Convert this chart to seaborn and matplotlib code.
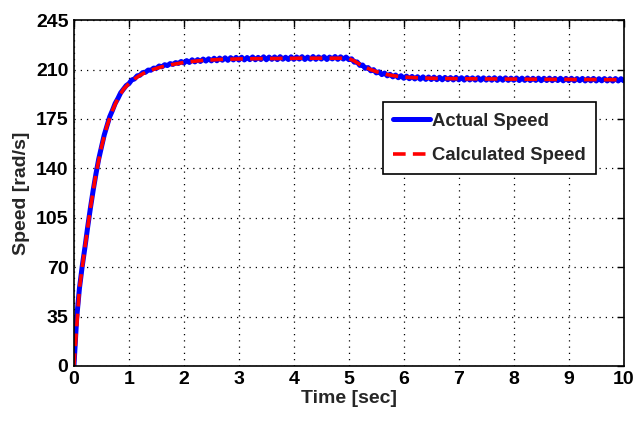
import numpy as np
import pandas as pd
import matplotlib
matplotlib.use("Agg")
import matplotlib.pyplot as plt
import seaborn as sns

# ---------------- data ----------------
time_calc = np.round(np.arange(0, 10.001, 0.1), 1)
calculated_speed = [
    0, 55, 84, 112, 136, 155, 170, 181, 189.5, 196,
    200, 203.3, 205.9, 208, 209.5, 210.8, 211.9, 212.8, 213.6, 214.3,
    215.0, 215.5, 215.9, 216.3, 216.6, 216.8, 217.0, 217.2, 217.3, 217.4,
    217.5, 217.6, 217.6, 217.7, 217.7, 217.8, 217.8, 217.8, 217.9, 217.9,
    217.9, 218.0, 218.0, 218.0, 218.0, 218.0, 218.0, 218.0, 218.0, 218.0,
    217.8, 216.0, 213.6, 211.6, 209.9, 208.5, 207.3, 206.4, 205.7, 205.1,
    204.7, 204.4, 204.2, 204.0, 203.9, 203.8, 203.7, 203.6, 203.6, 203.5,
    203.5, 203.4, 203.4, 203.4, 203.3, 203.3, 203.3, 203.3, 203.2, 203.2,
    203.2, 203.2, 203.1, 203.1, 203.1, 203.1, 203.0, 203.0, 203.0, 203.0,
    203.0, 202.9, 202.9, 202.9, 202.9, 202.9, 202.8, 202.8, 202.8, 202.8,
    202.8,
]

time_actual = np.round(np.arange(0, 10.001, 0.05), 2)
actual_speed = [
    0, 34, 55, 70.5, 84, 98.5, 112, 124.5, 136, 146.5,
    155, 163.5, 170, 176.5, 181, 186, 189.5, 193.5, 196, 198.6,
    200, 202.6, 203.3, 205.5, 205.9, 207.8, 208.0, 209.6, 209.5, 211.0,
    210.8, 212.5, 211.9, 213.4, 212.8, 214.2, 213.6, 214.9, 214.3, 215.7,
    214.6, 216.3, 215.0, 216.9, 215.4, 217.0, 215.7, 217.4, 216.0, 217.6,
    216.1, 218.0, 216.2, 218.1, 216.6, 218.3, 216.5, 218.4, 216.8, 218.6,
    216.7, 218.7, 216.8, 218.5, 217.0, 218.9, 216.9, 218.6, 217.1, 219.0,
    216.9, 218.8, 217.2, 218.9, 217.0, 219.1, 217.3, 218.7, 217.1, 219.0,
    217.2, 218.9, 217.4, 219.1, 217.1, 218.8, 217.3, 219.2, 217.2, 218.9,
    217.4, 219.1, 217.1, 218.8, 217.5, 219.2, 217.2, 219.0, 217.4, 218.8,
    217.0, 217.6, 215.2, 215.4, 212.9, 213.2, 210.8, 211.4, 209.1, 209.9,
    207.6, 208.4, 206.4, 207.5, 205.5, 206.6, 204.8, 206.1, 204.2, 205.6,
    203.8, 205.3, 203.5, 205.1, 203.3, 204.9, 203.1, 204.8, 203.0, 204.7,
    202.9, 204.6, 202.8, 204.5, 202.7, 204.4, 202.8, 204.3, 202.6, 204.4,
    202.7, 204.2, 202.5, 204.3, 202.6, 204.1, 202.5, 204.2, 202.4, 204.1,
    202.5, 204.0, 202.4, 204.2, 202.3, 204.0, 202.4, 204.1, 202.3, 203.9,
    202.4, 204.0, 202.2, 203.9, 202.3, 204.0, 202.2, 203.8, 202.3, 203.9,
    202.1, 203.8, 202.2, 203.9, 202.1, 203.7, 202.2, 203.8, 202.0, 203.7,
    202.1, 203.8, 202.0, 203.6, 202.1, 203.7, 201.9, 203.6, 202.0, 203.7,
    201.9, 203.5, 202.0, 203.6, 201.9, 203.5, 201.8, 203.6, 201.9, 203.5,
    202.0,
]

x_ticks = [0, 1, 2, 3, 4, 5, 6, 7, 8, 9, 10]
y_ticks = [0, 35, 70, 105, 140, 175, 210, 245]
series_labels = ["Actual Speed", "Calculated Speed"]
x_label = "Time [sec]"
y_label = "Speed [rad/s]"

df_actual = pd.DataFrame({"t": time_actual, "v": actual_speed})
df_calc = pd.DataFrame({"t": time_calc, "v": calculated_speed})

# ---------------- plot ----------------
sns.set_style("white")
plt.rcParams["font.family"] = ["Liberation Sans Narrow", "Liberation Sans", "DejaVu Sans"]
plt.rcParams["font.weight"] = "bold"

fig = plt.figure(figsize=(6.43, 4.28), dpi=100)
ax = fig.add_axes([0.115, 0.145, 0.855, 0.808])

sns.lineplot(data=df_actual, x="t", y="v", ax=ax, color="#0000ff",
             linewidth=3.6, label=series_labels[0], estimator=None)
sns.lineplot(data=df_calc, x="t", y="v", ax=ax, color="#ff0000",
             linewidth=2.6, linestyle=(0, (3.5, 2)), label=series_labels[1],
             estimator=None)

ax.set_xlim(0, 10)
ax.set_ylim(0, 245)
ax.set_xticks(x_ticks)
ax.set_yticks(y_ticks)
ax.set_xticklabels([str(v) for v in x_ticks], fontsize=14, fontweight="bold")
ax.set_yticklabels([str(v) for v in y_ticks], fontsize=14, fontweight="bold")
ax.set_xlabel(x_label, fontsize=14, fontweight="bold", labelpad=1)
ax.set_ylabel(y_label, fontsize=14, fontweight="bold", labelpad=4)

ax.grid(True, color="black", linestyle=(0, (1, 4)), linewidth=0.9)
ax.tick_params(direction="in", length=5, width=1, top=True, right=True,
               colors="black", pad=4)
for sp in ax.spines.values():
    sp.set_color("black")
    sp.set_linewidth(1.2)

leg = ax.legend(loc="upper left", bbox_to_anchor=(0.562, 0.762),
                borderaxespad=0,
                prop={"size": 13.3, "weight": "bold"}, frameon=True,
                fancybox=False, edgecolor="black", framealpha=1,
                handlelength=2.0, handletextpad=0.12, borderpad=0.55,
                labelspacing=0.95)
leg.get_frame().set_linewidth(1.2)
for line in leg.get_lines():
    line.set_linewidth(3.6 if line.get_color() == "#0000ff" else 2.6)

fig.savefig("out.png", dpi=100, facecolor="white")
